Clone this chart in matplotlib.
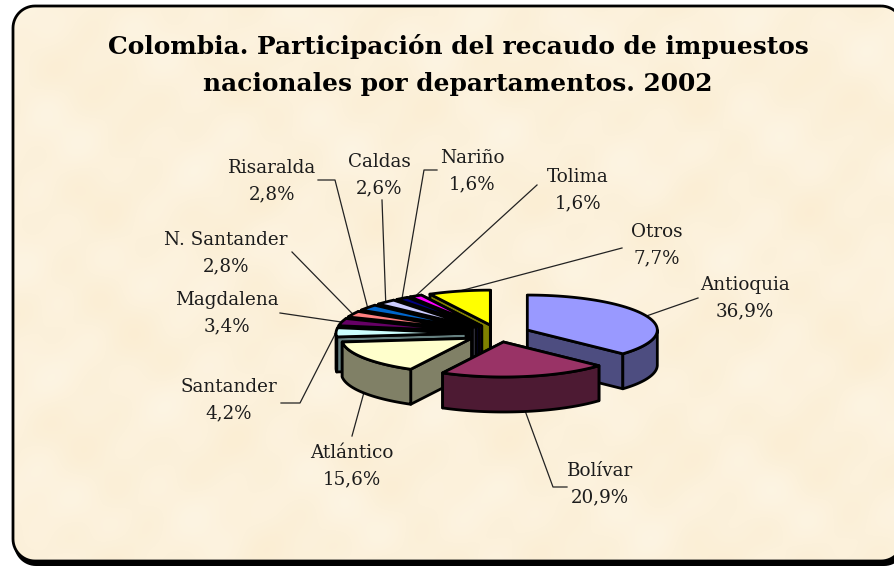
import numpy as np
import matplotlib
matplotlib.use('Agg')
import matplotlib.pyplot as plt
from matplotlib.patches import Polygon

# data, clockwise from 12 o'clock
departments = ['Antioquia', 'Bolívar', 'Atlántico', 'Santander', 'Magdalena',
               'N. Santander', 'Risaralda', 'Caldas', 'Nariño', 'Tolima', 'Otros']
shares = [36.9, 20.9, 15.6, 4.2, 3.4, 2.8, 2.8, 2.6, 1.6, 1.6, 7.7]
top_colors = ['#9999FF', '#993366', '#FFFFCC', '#CCFFFF', '#660066', '#FF8080',
              '#0066CC', '#CCCCFF', '#000080', '#FF00FF', '#FFFF00']
title = 'Colombia. Participación del recaudo de impuestos\nnacionales por departamentos. 2002'

# label centres and where the leader line stops (pixels)
label_pos = [(745, 297), (600, 483), (352, 465), (229, 399), (227, 312),
             (226, 252), (272, 180), (379, 174), (472, 170), (578, 189), (657, 244)]
leader_end = [[(698, 298)], [(553, 487), (567, 487)], [(352, 436)], [(300, 403), (281, 403)],
              [(280, 313)], [(292, 252)], [(335, 180), (318, 180)], [(382, 200)],
              [(424, 170), (437, 170)], [(537, 185)], [(622, 248)]]

CX, CY = 498, 333.5
RX, RY = 130, 35
DEPTH = 35
EXPLODE = 32
TILT = RY / RX
LW = 2.0


def round_box(x0, y0, x1, y1, r):
    pts = []
    corners = [(x1 - r, y0 + r, -90), (x1 - r, y1 - r, 0), (x0 + r, y1 - r, 90), (x0 + r, y0 + r, 180)]
    for cx, cy, a in corners:
        t = np.radians(np.linspace(a, a + 90, 16))
        pts += list(zip(cx + r * np.cos(t), cy + r * np.sin(t)))
    return pts


fig = plt.figure(figsize=(8.94, 5.67), dpi=100, facecolor='white')
ax = fig.add_axes([0, 0, 1, 1])
ax.set_xlim(0, 894)
ax.set_ylim(567, 0)
ax.axis('off')

# panel with shadow and parchment look
ax.add_patch(Polygon(round_box(14, 9, 906, 566, 22), fc='black', ec='black', lw=0, zorder=0))

gx, gy = np.meshgrid(np.arange(894), np.arange(567))
mottle = (np.sin(gx / 23.0 + 1.3 * np.sin(gy / 31.0)) + np.sin(gy / 19.0 + 1.1 * np.sin(gx / 37.0))
          + 0.6 * np.sin((gx + gy) / 11.0) + 0.6 * np.sin((gx - gy) / 14.0))
base = np.array([252, 241, 219]) / 255.0
paper = np.clip(base[None, None, :] + mottle[:, :, None] * np.array([0.001, 0.004, 0.009]), 0, 1)
img = ax.imshow(paper, extent=(0, 894, 567, 0), zorder=1, aspect='auto')
panel = Polygon(round_box(13, 6, 903, 561, 22), fc='none', ec='black', lw=2, zorder=2)
ax.add_patch(panel)
img.set_clip_path(panel)
ax.set_xlim(0, 894)
ax.set_ylim(567, 0)

ax.text(458, 65, title, ha='center', va='center', fontsize=17.9, fontweight='bold',
        family='DejaVu Serif', color='black', linespacing=1.65, zorder=10)

# slices
fracs = np.array(shares) / sum(shares)
ends = np.cumsum(fracs) * 2 * np.pi
starts = ends - fracs * 2 * np.pi


def rim(a, ox, oy, dz=0):
    return ox + RX * np.sin(a), oy - RY * np.cos(a) + dz


def darker(c):
    r = matplotlib.colors.to_rgb(c)
    return tuple(v * 0.5 for v in r)


# painter's order: back fan first, then the big front slices
order = [10, 9, 8, 7, 6, 5, 4, 3, 2, 0, 1]
for i in order:
    a0, a1 = starts[i], ends[i]
    mid = (a0 + a1) / 2
    ox = CX + EXPLODE * np.sin(mid)
    oy = CY - EXPLODE * TILT * np.cos(mid)
    side = darker(top_colors[i])
    style = dict(fc=side, ec='black', lw=LW, joinstyle='round', zorder=5)
    # cut faces, the one further back first
    for a in sorted((a0, a1), key=lambda v: rim(v, ox, oy)[1]):
        x, y = rim(a, ox, oy)
        ax.add_patch(Polygon([(ox, oy), (x, y), (x, y + DEPTH), (ox, oy + DEPTH)], **style))
    # outer wall, only the part turned to the viewer
    lo, hi = max(a0, np.pi / 2), min(a1, 3 * np.pi / 2)
    if hi > lo:
        t = np.linspace(lo, hi, 60)
        xs, ys = rim(t, ox, oy)
        pts = list(zip(xs, ys)) + list(zip(xs[::-1], ys[::-1] + DEPTH))
        ax.add_patch(Polygon(pts, **style))
    # top
    t = np.linspace(a0, a1, 60)
    xs, ys = rim(t, ox, oy)
    ax.add_patch(Polygon([(ox, oy)] + list(zip(xs, ys)), fc=top_colors[i], ec='black',
                         lw=LW, joinstyle='round', zorder=5))

# labels and leader lines
for i, name in enumerate(departments):
    mid = (starts[i] + ends[i]) / 2
    ox = CX + EXPLODE * np.sin(mid)
    oy = CY - EXPLODE * TILT * np.cos(mid)
    sx, sy = rim(mid, ox, oy, DEPTH if name in ('Bolívar', 'Atlántico') else 0)
    path = [(sx, sy)] + leader_end[i]
    ax.plot([p[0] for p in path], [p[1] for p in path], color='#222222', lw=0.9, zorder=4)
    ax.text(label_pos[i][0], label_pos[i][1] + 1, '%s\n%s%%' % (name, str(shares[i]).replace('.', ',')),
            ha='center', va='center', fontsize=13.2, family='DejaVu Serif', color='#1c1c1c',
            linespacing=1.62, zorder=10)

fig.savefig('out.png', dpi=100, facecolor='white')
